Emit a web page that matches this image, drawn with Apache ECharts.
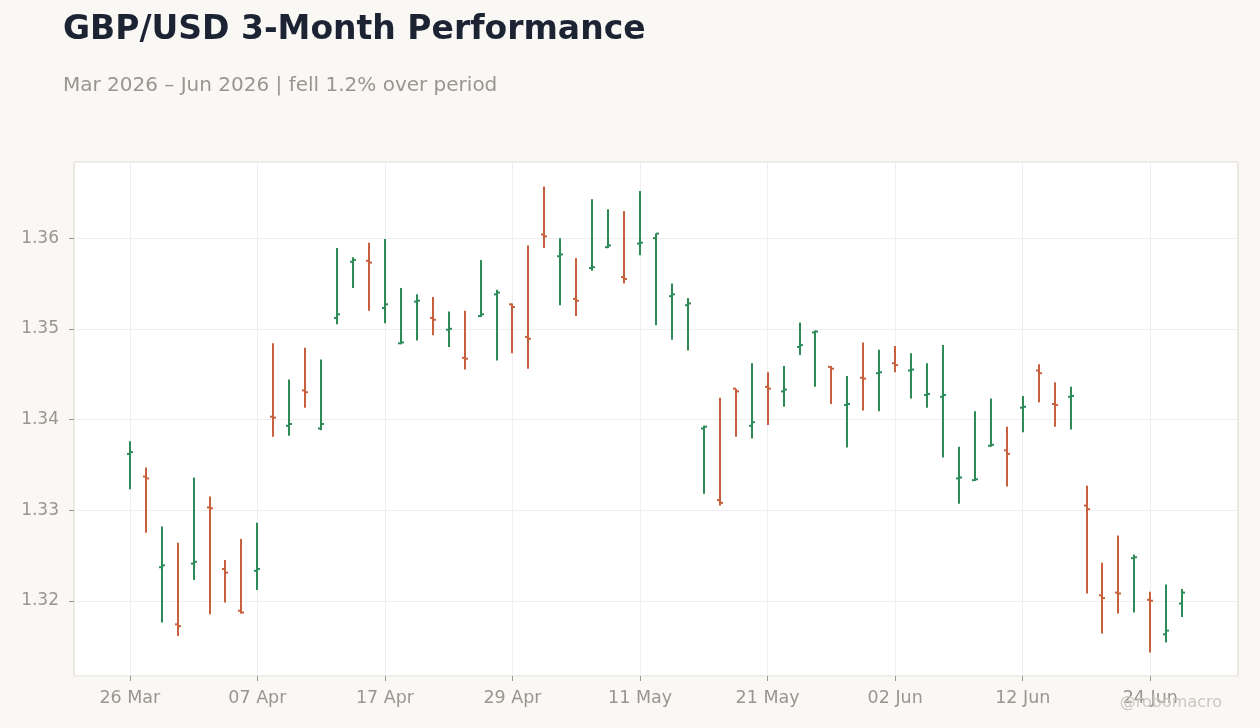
<!DOCTYPE html>
<html>
<head>
<meta charset="utf-8">
<script src="https://cdn.jsdelivr.net/npm/echarts@6/dist/echarts.min.js"></script>
<style>
html,body{margin:0;padding:0;background:#f9f8f5;}
#chart{width:1260px;height:728px;}
</style>
</head>
<body>
<div id="chart"></div>
<script>
var dates = ['26 Mar','27 Mar','30 Mar','31 Mar','01 Apr','02 Apr','03 Apr','06 Apr','07 Apr','08 Apr','09 Apr','10 Apr','13 Apr','14 Apr','15 Apr','16 Apr','17 Apr','20 Apr','21 Apr','22 Apr','23 Apr','24 Apr','27 Apr','28 Apr','29 Apr','30 Apr','01 May','04 May','05 May','06 May','07 May','08 May','11 May','12 May','13 May','14 May','15 May','18 May','19 May','20 May','21 May','22 May','25 May','26 May','27 May','28 May','29 May','01 Jun','02 Jun','03 Jun','04 Jun','05 Jun','08 Jun','09 Jun','10 Jun','11 Jun','12 Jun','15 Jun','16 Jun','17 Jun','18 Jun','19 Jun','22 Jun','23 Jun','24 Jun','25 Jun','26 Jun'];

var openV = [1.3362,1.3337,1.3237,1.3174,1.3241,1.3303,1.3235,1.3189,1.3233,1.3403,1.3393,1.3432,1.3390,1.3512,1.3574,1.3575,1.3523,1.3484,1.3530,1.3512,1.3499,1.3468,1.3514,1.3538,1.3527,1.3491,1.3604,1.3580,1.3533,1.3567,1.3590,1.3557,1.3594,1.3600,1.3536,1.3526,1.3390,1.3311,1.3434,1.3393,1.3436,1.3431,1.3480,1.3496,1.3458,1.3416,1.3446,1.3451,1.3462,1.3454,1.3427,1.3425,1.3335,1.3333,1.3371,1.3366,1.3413,1.3454,1.3417,1.3425,1.3305,1.3206,1.3209,1.3247,1.3201,1.3163,1.3197];
var highV = [1.3376,1.3347,1.3282,1.3264,1.3336,1.3315,1.3245,1.3268,1.3286,1.3484,1.3444,1.3479,1.3466,1.3589,1.3579,1.3595,1.3599,1.3545,1.3538,1.3535,1.3519,1.3520,1.3576,1.3543,1.3528,1.3592,1.3657,1.3600,1.3578,1.3643,1.3632,1.3630,1.3652,1.3605,1.3550,1.3534,1.3393,1.3424,1.3434,1.3462,1.3452,1.3459,1.3507,1.3498,1.3459,1.3448,1.3485,1.3477,1.3481,1.3473,1.3462,1.3482,1.3370,1.3409,1.3423,1.3392,1.3426,1.3461,1.3441,1.3436,1.3327,1.3242,1.3272,1.3251,1.3210,1.3218,1.3213];
var lowV = [1.3323,1.3275,1.3176,1.3161,1.3223,1.3185,1.3198,1.3186,1.3212,1.3381,1.3382,1.3413,1.3388,1.3505,1.3545,1.3520,1.3506,1.3483,1.3487,1.3493,1.3480,1.3455,1.3513,1.3465,1.3473,1.3456,1.3589,1.3526,1.3514,1.3564,1.3589,1.3550,1.3581,1.3504,1.3488,1.3476,1.3318,1.3305,1.3381,1.3379,1.3394,1.3414,1.3471,1.3436,1.3417,1.3369,1.3410,1.3409,1.3452,1.3423,1.3413,1.3358,1.3307,1.3332,1.3370,1.3326,1.3386,1.3419,1.3392,1.3389,1.3208,1.3164,1.3186,1.3187,1.3143,1.3154,1.3182];
var closeV = [1.3364,1.3335,1.3239,1.3172,1.3243,1.3302,1.3231,1.3187,1.3235,1.3402,1.3395,1.3430,1.3395,1.3516,1.3576,1.3573,1.3527,1.3485,1.3531,1.3510,1.3500,1.3467,1.3516,1.3540,1.3524,1.3489,1.3602,1.3582,1.3531,1.3568,1.3592,1.3555,1.3595,1.3605,1.3538,1.3528,1.3392,1.3308,1.3431,1.3397,1.3434,1.3433,1.3482,1.3497,1.3456,1.3417,1.3445,1.3452,1.3460,1.3455,1.3428,1.3427,1.3336,1.3334,1.3372,1.3362,1.3414,1.3451,1.3416,1.3426,1.3301,1.3203,1.3208,1.3248,1.3200,1.3167,1.3209];

var PAD = 3;
var LABEL_STEP = 8;
var UP = '#2e8b57', DOWN = '#c8603e';
var FONT = 'DejaVu Sans';

var categories = [];
for (var i = 0; i < PAD; i++) categories.push('pad_l' + i);
dates.forEach(function (d) { categories.push(d); });
for (var j = 0; j < PAD; j++) categories.push('pad_r' + j);

var ohlc = dates.map(function (d, k) {
  return [k + PAD, openV[k], closeV[k], lowV[k], highV[k]];
});

function showAt(index) {
  var k = index - PAD;
  return k >= 0 && k < dates.length && k % LABEL_STEP === 0;
}

var chart = echarts.init(document.getElementById('chart'));
chart.setOption({
  animation: false,
  backgroundColor: '#f9f8f5',
  textStyle: { fontFamily: FONT },
  title: [
    { text: 'GBP/USD 3-Month Performance', left: 63, top: 14, padding: 0,
      textStyle: { fontFamily: FONT, fontSize: 33, fontWeight: 'bold', color: '#1c2333' } },
    { text: 'Mar 2026 \u2013 Jun 2026 | fell 1.2% over period', left: 63, top: 76, padding: 0,
      textStyle: { fontFamily: FONT, fontSize: 20, fontWeight: 'normal', color: '#9a958f' } }
  ],
  graphic: [
    { type: 'text', right: 38, top: 695, z: 100,
      style: { text: '@robomacro', fontFamily: FONT, fontSize: 16, fill: '#cbc7c1' } }
  ],
  grid: { left: 74, right: 22, top: 162, bottom: 52, show: true,
          backgroundColor: '#ffffff', borderColor: '#dcd5cb', borderWidth: 1 },
  xAxis: {
    type: 'category',
    data: categories,
    boundaryGap: true,
    axisLine: { show: false },
    axisTick: { show: true, length: 5, alignWithLabel: true, interval: function (idx) { return showAt(idx); },
                lineStyle: { color: '#9a958f' } },
    axisLabel: { interval: function (idx) { return showAt(idx); }, margin: 13,
                 fontFamily: FONT, fontSize: 17.5, color: '#9a958f' },
    splitLine: { show: true, alignWithLabel: true, interval: function (idx) { return showAt(idx); },
                 lineStyle: { color: '#efefef', width: 1 } }
  },
  yAxis: {
    type: 'value',
    min: 1.3117,
    max: 1.3684,
    splitNumber: 5,
    axisLine: { show: false },
    axisTick: { show: true, length: 5, lineStyle: { color: '#9a958f' } },
    axisLabel: {
      showMinLabel: false, showMaxLabel: false, margin: 15,
      fontFamily: FONT, fontSize: 17, color: '#9a958f',
      formatter: function (v) {
        var r = Math.round(v * 100);
        return Math.abs(v * 100 - r) < 1e-6 ? (r / 100).toFixed(2) : '';
      }
    },
    splitLine: { show: true, lineStyle: { color: '#efefef', width: 1 } }
  },
  series: [{
    type: 'custom',
    data: ohlc,
    encode: { x: 0, y: [1, 2, 3, 4] },
    clip: true,
    renderItem: function (params, api) {
      var x = api.value(0);
      var o = api.coord([x, api.value(1)]);
      var c = api.coord([x, api.value(2)]);
      var l = api.coord([x, api.value(3)]);
      var h = api.coord([x, api.value(4)]);
      var color = api.value(2) >= api.value(1) ? UP : DOWN;
      var cx = Math.round(o[0]);
      var st = { stroke: color, lineWidth: 2 };
      return {
        type: 'group',
        children: [
          { type: 'line', shape: { x1: cx, y1: h[1], x2: cx, y2: l[1] }, style: st },
          { type: 'line', shape: { x1: cx - 3, y1: o[1], x2: cx, y2: o[1] }, style: st },
          { type: 'line', shape: { x1: cx, y1: c[1], x2: cx + 3, y2: c[1] }, style: st }
        ]
      };
    }
  }]
});
</script>
</body>
</html>
